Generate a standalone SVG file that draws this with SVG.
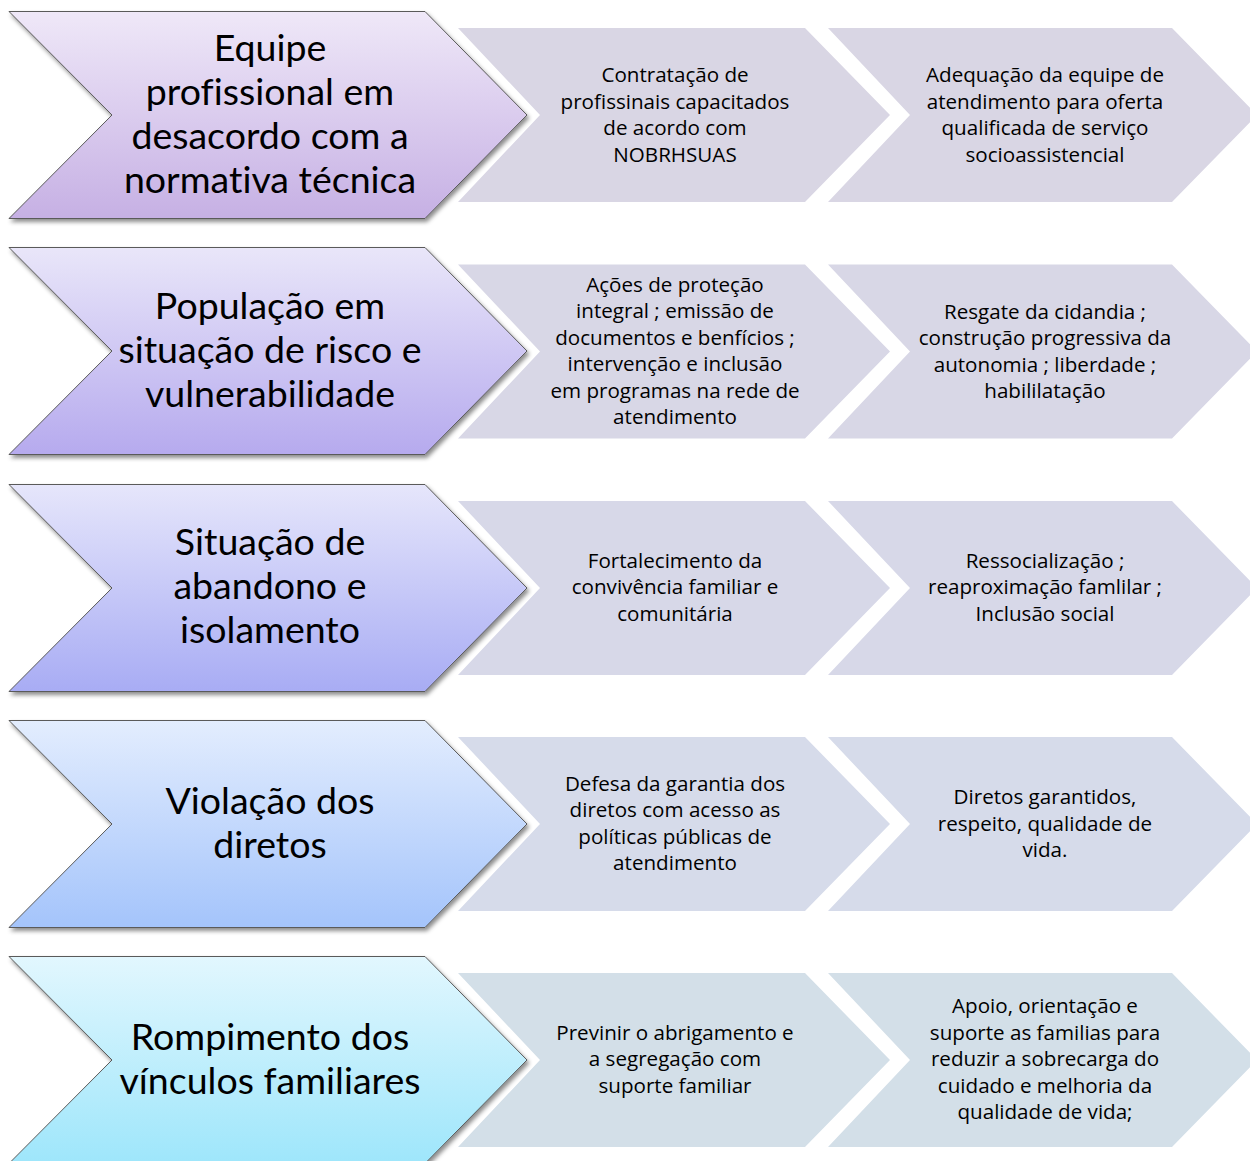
<svg xmlns="http://www.w3.org/2000/svg" width="1250" height="1161" viewBox="0 0 1250 1161">
<style>
.big{stroke:#5a5a5a;stroke-width:1}
.bt{font-family:"Lato","Open Sans","Liberation Sans",sans-serif;font-size:37.5px;fill:#000;text-anchor:middle;font-variant-ligatures:none}
.st{font-family:"Open Sans","Lato","Liberation Sans",sans-serif;font-size:20.6px;fill:#000;text-anchor:middle}
</style>
<defs>
<filter id="sh" x="-5%" y="-5%" width="115%" height="115%">
<feDropShadow dx="2" dy="3" stdDeviation="2" flood-color="#000" flood-opacity="0.45"/>
</filter>
<linearGradient id="g1" x1="0" y1="0" x2="0" y2="1"><stop offset="0" stop-color="#efe8f8"/><stop offset="1" stop-color="#c6b0e4"/></linearGradient>
<linearGradient id="g2" x1="0" y1="0" x2="0" y2="1"><stop offset="0" stop-color="#e9e6f9"/><stop offset="1" stop-color="#b6aaee"/></linearGradient>
<linearGradient id="g3" x1="0" y1="0" x2="0" y2="1"><stop offset="0" stop-color="#e6e6fb"/><stop offset="1" stop-color="#a8acf4"/></linearGradient>
<linearGradient id="g4" x1="0" y1="0" x2="0" y2="1"><stop offset="0" stop-color="#e3edfe"/><stop offset="1" stop-color="#a4c4fb"/></linearGradient>
<linearGradient id="g5" x1="0" y1="0" x2="0" y2="1"><stop offset="0" stop-color="#e2f7fe"/><stop offset="1" stop-color="#9ee6fb"/></linearGradient>
</defs>
<rect width="1250" height="1161" fill="#fff"/>

<g id="row1">
<g id="r1-a"><polygon class="big" filter="url(#sh)" fill="url(#g1)" points="9,11.5 425,11.5 527,115 425,218.5 9,218.5 112,115"/>
<text class="bt"><tspan x="270" y="61">Equipe</tspan><tspan x="270" y="105">profissional em</tspan><tspan x="270" y="149">desacordo com a</tspan><tspan x="270" y="193">normativa técnica</tspan></text></g>
<g id="r1-b"><polygon fill="#d9d6e4" points="458,28 805,28 890,115 805,202 458,202 540,115"/>
<text class="st"><tspan x="675" y="82">Contratação de</tspan><tspan x="675" y="109">profissinais capacitados</tspan><tspan x="675" y="135">de acordo com</tspan><tspan x="675" y="162">NOBRHSUAS</tspan></text></g>
<g id="r1-c"><polygon fill="#d9d6e4" points="828,28 1172,28 1257,115 1172,202 828,202 910,115"/>
<text class="st"><tspan x="1045" y="82">Adequação da equipe de</tspan><tspan x="1045" y="109">atendimento para oferta</tspan><tspan x="1045" y="135">qualificada de serviço</tspan><tspan x="1045" y="162">socioassistencial</tspan></text></g>
</g>

<g id="row2">
<g id="r2-a"><polygon class="big" filter="url(#sh)" fill="url(#g2)" points="9,247.5 425,247.5 527,351 425,454.5 9,454.5 112,351"/>
<text class="bt"><tspan x="270" y="319">População em</tspan><tspan x="270" y="363">situação de risco e</tspan><tspan x="270" y="407">vulnerabilidade</tspan></text></g>
<g id="r2-b"><polygon fill="#d8d7e6" points="458,264.5 805,264.5 890,351.5 805,438.5 458,438.5 540,351.5"/>
<text class="st"><tspan x="675" y="292">Ações de proteção</tspan><tspan x="675" y="318">integral ; emissão de</tspan><tspan x="675" y="345">documentos e benfícios ;</tspan><tspan x="675" y="371">intervenção e inclusão</tspan><tspan x="675" y="398">em programas na rede de</tspan><tspan x="675" y="424">atendimento</tspan></text></g>
<g id="r2-c"><polygon fill="#d8d7e6" points="828,264.5 1172,264.5 1257,351.5 1172,438.5 828,438.5 910,351.5"/>
<text class="st"><tspan x="1045" y="319">Resgate da cidandia ;</tspan><tspan x="1045" y="345">construção progressiva da</tspan><tspan x="1045" y="372">autonomia ; liberdade ;</tspan><tspan x="1045" y="398">habililatação</tspan></text></g>
</g>

<g id="row3">
<g id="r3-a"><polygon class="big" filter="url(#sh)" fill="url(#g3)" points="9,484.5 425,484.5 527,588 425,691.5 9,691.5 112,588"/>
<text class="bt"><tspan x="270" y="555">Situação de</tspan><tspan x="270" y="599">abandono e</tspan><tspan x="270" y="643">isolamento</tspan></text></g>
<g id="r3-b"><polygon fill="#d7d8e8" points="458,501 805,501 890,588 805,675 458,675 540,588"/>
<text class="st"><tspan x="675" y="568">Fortalecimento da</tspan><tspan x="675" y="594">convivência familiar e</tspan><tspan x="675" y="621">comunitária</tspan></text></g>
<g id="r3-c"><polygon fill="#d7d8e8" points="828,501 1172,501 1257,588 1172,675 828,675 910,588"/>
<text class="st"><tspan x="1045" y="568">Ressocialização ;</tspan><tspan x="1045" y="594">reaproximação famlilar ;</tspan><tspan x="1045" y="621">Inclusão social</tspan></text></g>
</g>

<g id="row4">
<g id="r4-a"><polygon class="big" filter="url(#sh)" fill="url(#g4)" points="9,720.5 425,720.5 527,824 425,927.5 9,927.5 112,824"/>
<text class="bt"><tspan x="270" y="814">Violação dos</tspan><tspan x="270" y="858">diretos</tspan></text></g>
<g id="r4-b"><polygon fill="#d6dbea" points="458,737 805,737 890,824 805,911 458,911 540,824"/>
<text class="st"><tspan x="675" y="791">Defesa da garantia dos</tspan><tspan x="675" y="817">diretos com acesso as</tspan><tspan x="675" y="844">políticas públicas de</tspan><tspan x="675" y="870">atendimento</tspan></text></g>
<g id="r4-c"><polygon fill="#d6dbea" points="828,737 1172,737 1257,824 1172,911 828,911 910,824"/>
<text class="st"><tspan x="1045" y="804">Diretos garantidos,</tspan><tspan x="1045" y="831">respeito, qualidade de</tspan><tspan x="1045" y="857">vida.</tspan></text></g>
</g>

<g id="row5">
<g id="r5-a"><polygon class="big" filter="url(#sh)" fill="url(#g5)" points="9,956.5 425,956.5 527,1060 425,1163.5 9,1163.5 112,1060"/>
<text class="bt"><tspan x="270" y="1050">Rompimento dos</tspan><tspan x="270" y="1094">vínculos familiares</tspan></text></g>
<g id="r5-b"><polygon fill="#d3dfe8" points="458,973 805,973 890,1060 805,1147 458,1147 540,1060"/>
<text class="st"><tspan x="675" y="1040">Previnir o abrigamento e</tspan><tspan x="675" y="1066">a segregação com</tspan><tspan x="675" y="1093">suporte familiar</tspan></text></g>
<g id="r5-c"><polygon fill="#d3dfe8" points="828,973 1172,973 1257,1060 1172,1147 828,1147 910,1060"/>
<text class="st"><tspan x="1045" y="1013">Apoio, orientação e</tspan><tspan x="1045" y="1040">suporte as familias para</tspan><tspan x="1045" y="1066">reduzir a sobrecarga do</tspan><tspan x="1045" y="1093">cuidado e melhoria da</tspan><tspan x="1045" y="1119">qualidade de vida;</tspan></text></g>
</g>
<g id="connectors"/>
</svg>
